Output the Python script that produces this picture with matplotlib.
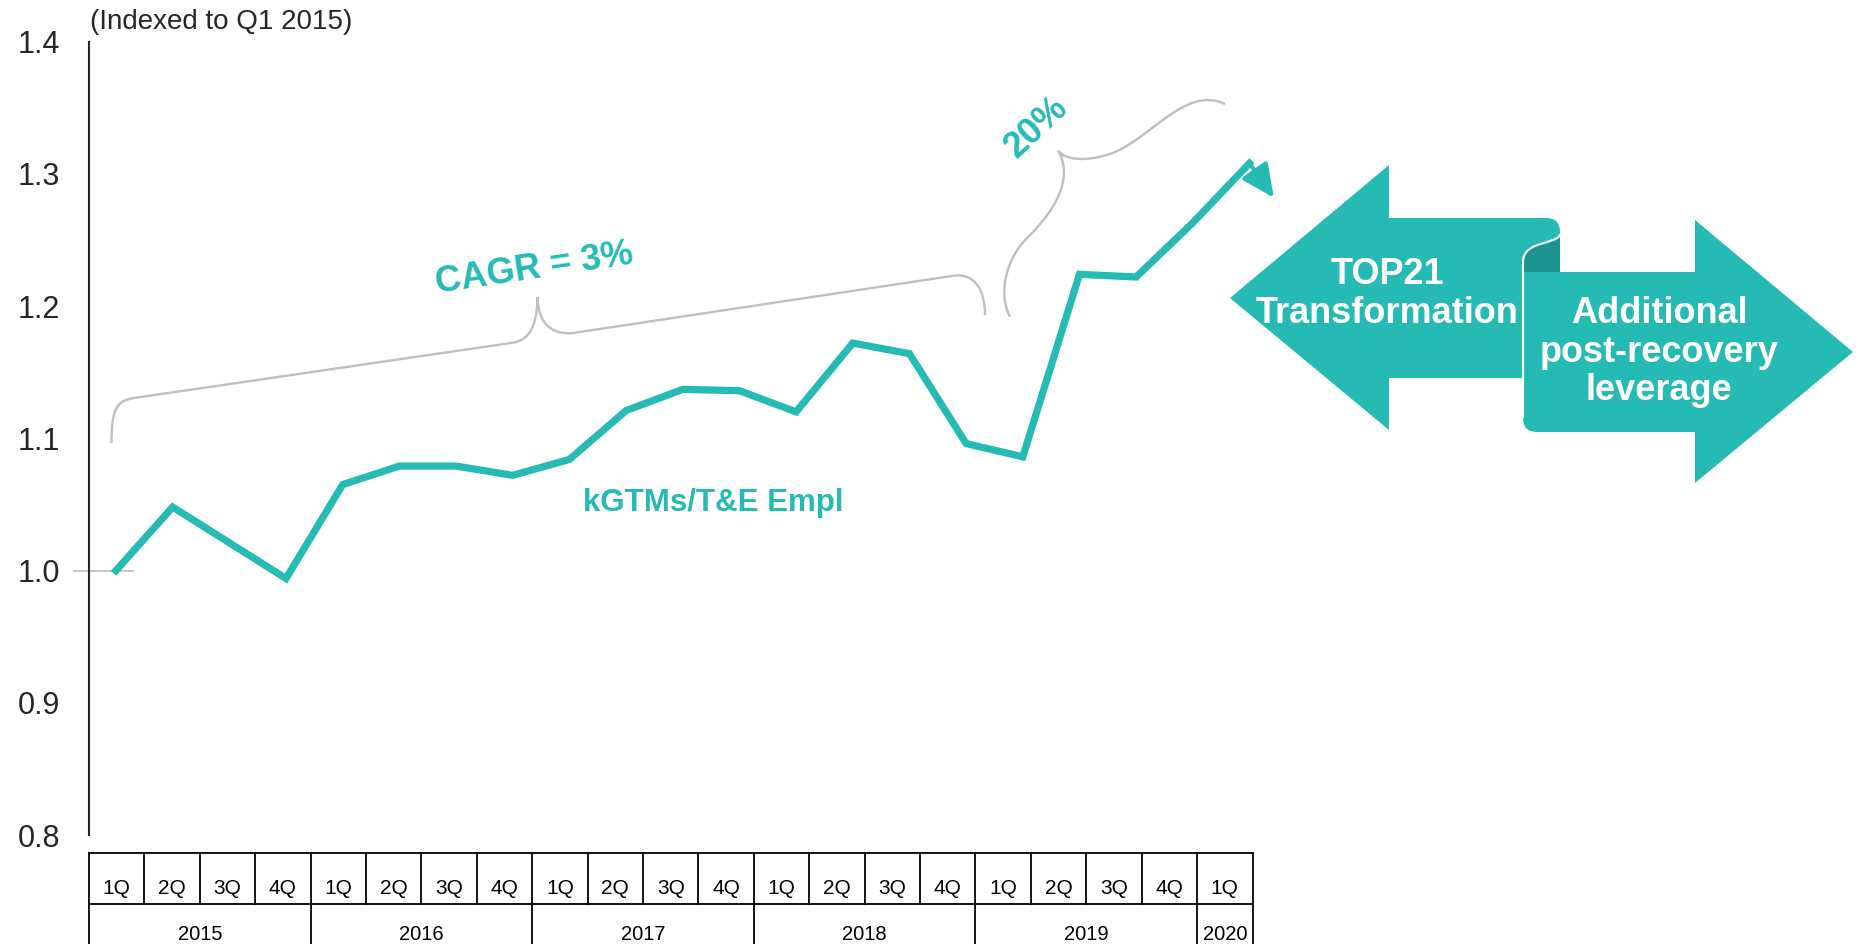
import matplotlib
matplotlib.use('Agg')
import matplotlib.pyplot as plt
from matplotlib.path import Path
from matplotlib.patches import PathPatch

plt.rcParams['font.family'] = ['Liberation Sans', 'DejaVu Sans']

# data
quarters = ['1Q', '2Q', '3Q', '4Q'] * 5 + ['1Q']
years = ['2015', '2016', '2017', '2018', '2019', '2020']
year_spans = [4, 4, 4, 4, 4, 1]
ratio = [1.000, 1.048, 1.021, 0.994, 1.065, 1.079, 1.079, 1.072, 1.084,
         1.121, 1.137, 1.136, 1.120, 1.172, 1.164, 1.096, 1.086,
         1.224, 1.222, 1.263, 1.308]
yticks = [0.8, 0.9, 1.0, 1.1, 1.2, 1.3, 1.4]

TEAL = '#25bbb4'
DARK = '#1c958e'
GREY = '#bfbfbf'
W, H = 1865, 944

fig = plt.figure(figsize=(W / 100, H / 100), dpi=100)

# overlay in pixel units for table / braces / arrows
deco = fig.add_axes([0, 0, 1, 1])
deco.set_xlim(0, W)
deco.set_ylim(H, 0)
deco.axis('off')

ax = fig.add_axes([89 / W, 1 - 835 / H, 1 - 89 / W, (835 - 41.6) / H])
ax.patch.set_visible(False)
x = list(range(len(ratio)))
ax.plot(x, ratio, color=TEAL, lw=5.2, solid_joinstyle='miter', zorder=3)
ax.annotate('', xy=(x[-1] + 0.43, ratio[-1] - 0.026), xytext=(x[-1], ratio[-1]),
            arrowprops=dict(arrowstyle='-|>,head_length=2.0,head_width=0.95',
                            mutation_scale=10, color=TEAL, lw=3,
                            shrinkA=0, shrinkB=0))
ax.plot([-0.74, 0.3], [1.0, 1.0], color=GREY, lw=1.2, clip_on=False, zorder=1)
ax.set_xlim(-0.476, 30.86)
ax.set_ylim(0.8, 1.4)
ax.set_xticks([])
ax.set_yticks(yticks)
ax.set_yticklabels(['%.1f' % v for v in yticks])
ax.tick_params(axis='y', length=0, pad=21, labelsize=22, labelcolor='#262626')
for s in ['top', 'right', 'bottom']:
    ax.spines[s].set_visible(False)
ax.spines['left'].set_linewidth(1.5)
ax.spines['left'].set_color('#262626')

ax.text(10.53, 1.0453, 'kGTMs/T&E Empl', color=TEAL, fontsize=22.5,
        fontweight='bold', ha='center', va='baseline')
deco.text(90, 22, '(Indexed to Q1 2015)', fontsize=20, color='#262626',
          ha='left', va='center')

# table under the chart
tx0, tx1 = 89, 1252.5
cw = (tx1 - tx0) / len(quarters)
ytop, ymid, ybot = 853, 904, 990
deco.plot([tx0, tx1], [ytop, ytop], color='black', lw=1.3)
deco.plot([tx0, tx1], [ymid, ymid], color='black', lw=1.3)
for k, q in enumerate(quarters):
    deco.text(tx0 + (k + 0.5) * cw, 889, q, fontsize=15, ha='center',
              va='center', color='black')
for k in range(len(quarters) + 1):
    deco.plot([tx0 + k * cw] * 2, [ytop, ymid], color='black', lw=1.3)
start = 0
for yr, n in zip(years, year_spans):
    deco.plot([tx0 + start * cw] * 2, [ymid, ybot], color='black', lw=1.3)
    deco.text(tx0 + (start + n / 2) * cw, 934, yr, fontsize=14.5,
              ha='center', va='center', color='black')
    start += n
deco.plot([tx0 + start * cw] * 2, [ymid, ybot], color='black', lw=1.3)

# braces
M, L, C = Path.MOVETO, Path.LINETO, Path.CURVE4
b1 = [(111.5, 443), (111.5, 410), (116, 400.6), (134, 398), (513, 342.7),
      (530, 340), (537, 325), (537.6, 297),
      (538, 322), (550, 334), (571, 333.3), (951.6, 276),
      (975, 272), (985, 290), (985, 315)]
b1c = [M, C, C, C, L, C, C, C, C, C, C, L, C, C, C]
deco.add_patch(PathPatch(Path(b1, b1c), fill=False, edgecolor=GREY, lw=1.7))
b2 = [(1010, 316.7), (998, 295), (1005, 258), (1030, 235),
      (1060, 205), (1072, 175), (1058.3, 150.7),
      (1065, 160), (1085, 162), (1110, 154),
      (1150, 140), (1185, 85), (1225, 104)]
b2c = [M, C, C, C, C, C, C, C, C, C, C, C, C]
deco.add_patch(PathPatch(Path(b2, b2c), fill=False, edgecolor=GREY, lw=1.7))

deco.text(534, 269, 'CAGR = 3%', color=TEAL, fontsize=26, fontweight='bold',
          rotation=8.5, ha='center', va='center', rotation_mode='anchor')
deco.text(1037, 127, '20%', color=TEAL, fontsize=26, fontweight='bold',
          rotation=43, ha='center', va='center', rotation_mode='anchor')

# double arrow with scroll
Q3 = Path.CURVE3
left = [(1230, 298), (1389, 165), (1389, 218), (1546, 218), (1560, 218),
        (1560, 232), (1560, 234), (1558, 245), (1523, 240), (1523, 262),
        (1523, 378), (1389, 378), (1389, 430), (1230, 298)]
leftc = [M, L, L, L, Q3, Q3, L, C, C, C, L, L, L, Path.CLOSEPOLY]
deco.add_patch(PathPatch(Path(left, leftc), facecolor=TEAL, edgecolor='none'))
curl = [(1560, 234), (1558, 245), (1523, 240), (1523, 262), (1523, 272),
        (1560, 272), (1560, 234)]
curlc = [M, C, C, C, L, L, Path.CLOSEPOLY]
deco.add_patch(PathPatch(Path(curl, curlc), facecolor=DARK, edgecolor='none'))
right = [(1523, 272), (1695, 272), (1695, 220), (1853, 352), (1695, 483),
         (1695, 432), (1537, 432), (1523, 432), (1523, 418), (1523, 272)]
rightc = [M, L, L, L, L, L, L, Q3, Q3, Path.CLOSEPOLY]
deco.add_patch(PathPatch(Path(right, rightc), facecolor=TEAL, edgecolor='none'))
edge = [(1560, 234), (1558, 245), (1523, 240), (1523, 262), (1523, 418)]
deco.add_patch(PathPatch(Path(edge, [M, C, C, C, L]), fill=False,
                         edgecolor='white', lw=1.5))

deco.text(1387, 294, 'TOP21\nTransformation', color='white', fontsize=26,
          fontweight='bold', ha='center', va='center', linespacing=1.12)
deco.text(1659, 352, 'Additional\npost-recovery\nleverage', color='white',
          fontsize=26, fontweight='bold', ha='center', va='center',
          linespacing=1.12)

fig.savefig('out.png', dpi=100)
